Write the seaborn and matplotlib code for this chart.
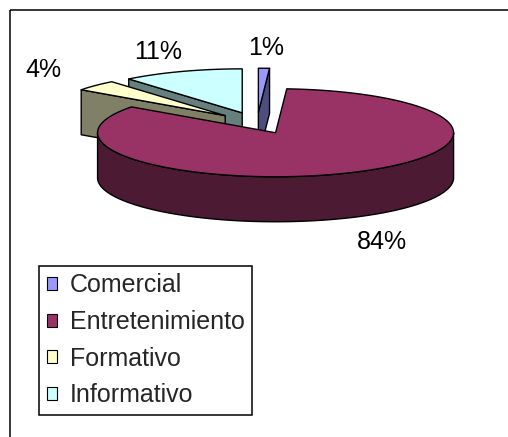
import numpy as np
import matplotlib
matplotlib.use("Agg")
import matplotlib.pyplot as plt
from matplotlib.patches import Polygon, Rectangle, Patch
import seaborn as sns

# ---- data ----
categories = ["Comercial", "Entretenimiento", "Formativo", "Informativo"]
values = [1, 84, 4, 11]
pct_labels = ["1%", "84%", "4%", "11%"]
top_colors = ["#9999FF", "#993366", "#FFFFCC", "#CCFFFF"]
side_colors = ["#4D4D80", "#4D1A33", "#808066", "#668080"]

sns.set_style("white")
plt.rcParams['font.family'] = ['Liberation Sans', 'DejaVu Sans']

W, HP = 508, 437
fig = plt.figure(figsize=(W / 100, HP / 100), dpi=100)
ax = fig.add_axes([0, 0, 1, 1])
ax.set_xlim(0, W)
ax.set_ylim(HP, 0)
ax.axis('off')

# chart frame
ax.add_patch(Rectangle((10, 10), 700, 700, fill=False, edgecolor='black', lw=1.1, zorder=1))

# pie geometry (layout)
cx, cy = 257, 123
A, B = 178, 44
depth = 45
explode = 0.245
lw = 1.0
FS = 18

vals = np.array(values, float)
fr = vals / vals.sum()
ends = np.cumsum(fr) * 360
starts = ends - fr * 360
mids = (starts + ends) / 2


def off(phi, r=1.0):
    p = np.radians(phi)
    return np.array([A * r * np.sin(p), -B * r * np.cos(p)])


tips = [np.array([cx, cy]) + off(m, explode) for m in mids]
order = np.argsort([t[1] for t in tips])
down = np.array([0, depth])

z = 2
for i in order:
    s, e, m, T = starts[i], ends[i], mids[i], tips[i]
    sc, tc = side_colors[i], top_colors[i]
    # radial face at start angle
    if np.sin(np.radians(s)) < -1e-6:
        O = T + off(s)
        ax.add_patch(Polygon([T, O, O + down, T + down], closed=True, facecolor=sc,
                             edgecolor='black', lw=lw, joinstyle='round', zorder=z))
    # radial face at end angle
    if np.sin(np.radians(e)) > 1e-6:
        O = T + off(e)
        ax.add_patch(Polygon([T, O, O + down, T + down], closed=True, facecolor=sc,
                             edgecolor='black', lw=lw, joinstyle='round', zorder=z))
    # outer wall (front part)
    a0, a1 = max(s, 90), min(e, 270)
    if a1 > a0:
        ph = np.linspace(a0, a1, 200)
        topa = np.array([T + off(p) for p in ph])
        bota = topa + down
        ax.add_patch(Polygon(np.vstack([topa, bota[::-1]]), closed=True, facecolor=sc,
                             edgecolor='black', lw=lw, joinstyle='round', zorder=z))
    # top face
    ph = np.linspace(s, e, max(int((e - s) * 2), 4))
    arc = np.array([T + off(p) for p in ph])
    ax.add_patch(Polygon(np.vstack([T, arc]), closed=True, facecolor=tc,
                         edgecolor='black', lw=lw, joinstyle='round', zorder=z + 0.5))
    z += 1

# percentage labels
for i in range(len(values)):
    m = mids[i]
    p = tips[i] + off(m, 1.4)
    if np.cos(np.radians(m)) < 0:
        p = p + down * 1.2
    else:
        p = p - np.array([0, 3])
    ax.text(p[0], p[1], pct_labels[i], ha='center', va='center', fontsize=FS,
            color='black', zorder=20)

# legend
handles = [Patch(facecolor=c, edgecolor='black', lw=0.8) for c in top_colors]
leg = ax.legend(handles, categories, loc='upper left',
                bbox_to_anchor=(39 / W, 1 - 266 / HP), bbox_transform=fig.transFigure,
                fontsize=FS, frameon=True, fancybox=False, edgecolor='black',
                handlelength=0.42, handleheight=0.42, handletextpad=0.5,
                labelspacing=0.5, borderpad=0.3, borderaxespad=0)
leg.get_frame().set_linewidth(1.1)
leg.get_frame().set_alpha(1)

fig.savefig("out.png", dpi=100)
